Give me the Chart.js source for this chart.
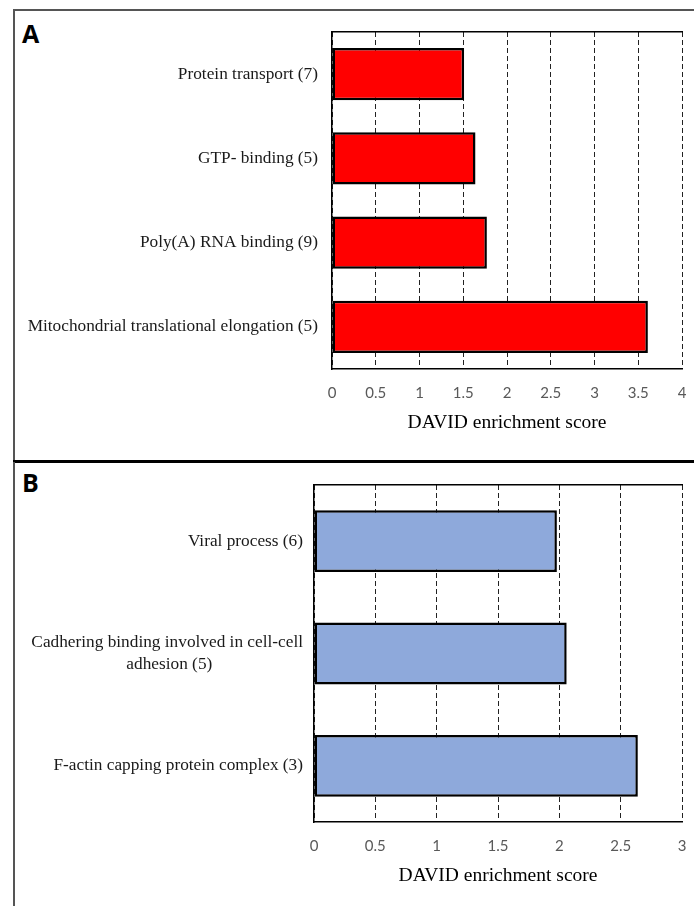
<!DOCTYPE html>
<html>
<head>
<meta charset="utf-8">
<script src="https://cdn.jsdelivr.net/npm/chart.js@4.4.1/dist/chart.umd.min.js"></script>
<style>
  html, body { margin: 0; padding: 0; background: #fff; }
  #wrap { position: relative; width: 694px; height: 906px; overflow: hidden; }
  .panel { position: absolute; }
  .letter { position: absolute; font-family: "Open Sans", Arial, sans-serif; font-weight: 700; font-size: 25px; line-height: 30px; color: #000; }
  #boxA { left: 13px; top: 9px; width: 700px; height: 452px; border-left: 2px solid #555; border-top: 2px solid #555; }
  #sep { left: 13px; top: 460px; width: 700px; height: 3px; background: #000; }
  #boxB { left: 13px; top: 462px; width: 700px; height: 460px; border-left: 2px solid #555; }
  canvas { position: absolute; left: 0; }
</style>
</head>
<body>
<div id="wrap">
  <div class="panel" id="boxA"></div>
  <div class="panel" id="sep"></div>
  <div class="panel" id="boxB"></div>
  <div class="letter" style="left:22px; top:18px;">A</div>
  <div class="letter" style="left:22px; top:467px;">B</div>
  <canvas id="chartA" style="top:0px;"></canvas>
  <canvas id="chartB" style="top:462px;"></canvas>
</div>
<script>
const labelsA = [
    "Protein transport (7)",
    "GTP- binding (5)",
    "Poly(A) RNA binding (9)",
    "Mitochondrial translational elongation (5)"
];
const scoresA = [1.51, 1.64, 1.77, 3.61];

const labelsB = [
    "Viral process (6)",
    ["Cadhering binding involved in cell-cell", "adhesion (5)"],
    "F-actin capping protein complex (3)"
];
const scoresB = [1.98, 2.06, 2.64];

const axisTitle = "DAVID enrichment score";

const labelFont = { family: "'Liberation Serif', 'Times New Roman', serif", size: 17.3, lineHeight: 1.28 };
const tickFont = { family: "Lato, 'Open Sans', sans-serif", size: 15, lineHeight: 1.2 };
const titleFont = { family: "'Liberation Serif', 'Times New Roman', serif", size: 19.5, lineHeight: 1.2 };

// Excel centres the lines of a wrapped label; pad the short line so it sits centred
function centreWrapped(lines) {
    if (!Array.isArray(lines)) return lines;
    const ctx = document.createElement("canvas").getContext("2d");
    ctx.font = labelFont.size + "px " + labelFont.family;
    const w0 = ctx.measureText(lines[0]).width;
    return lines.map(line => {
        let s = line;
        while (ctx.measureText(s + " ").width <= (w0 + ctx.measureText(line).width) / 2 + 1) s += " ";
        return s;
    });
}

function makeChart(id, w, h, labels, values, color, xMax, o) {
    const canvas = document.getElementById(id);
    canvas.width = w;
    canvas.height = h;
    canvas.style.width = w + "px";
    canvas.style.height = h + "px";

    return new Chart(canvas, {
        type: "bar",
        data: {
            labels: labels.map(centreWrapped),
            datasets: [{
                data: values,
                backgroundColor: color,
                borderColor: "#000",
                borderWidth: 2.5,
                borderSkipped: false,
                barPercentage: o.bar,
                categoryPercentage: 1
            }]
        },
        options: {
            indexAxis: "y",
            responsive: false,
            animation: false,
            layout: { padding: { top: o.top, right: o.right, left: 0, bottom: 0 } },
            plugins: { legend: { display: false }, tooltip: { enabled: false } },
            scales: {
                x: {
                    position: "bottom",
                    min: 0,
                    max: xMax,
                    ticks: {
                        stepSize: 0.5,
                        color: "#595959",
                        font: tickFont,
                        padding: o.tickPad,
                        callback: v => String(v)
                    },
                    grid: { color: "#222", lineWidth: 1, drawTicks: false },
                    border: { display: true, color: "#000", width: 1.5, dash: [5, 3] },
                    title: {
                        display: true,
                        text: axisTitle,
                        color: "#000",
                        font: titleFont,
                        padding: { top: 0, bottom: o.titlePad }
                    },
                    afterFit: s => {
                        s.height = o.xHeight;
                        s.paddingLeft = 0;
                        s.paddingRight = 0;
                    }
                },
                xTop: {
                    position: "top",
                    type: "linear",
                    display: true,
                    ticks: { display: false },
                    grid: { display: false, drawTicks: false },
                    border: { display: true, color: "#000", width: 1.5 },
                    afterFit: s => {
                        s.height = 0;
                        s.paddingLeft = 0;
                        s.paddingRight = 0;
                    }
                },
                y: {
                    ticks: { color: "#1a1a1a", font: labelFont, padding: o.labelPad },
                    grid: { display: false, drawTicks: false },
                    border: { display: true, color: "#000", width: 1.5 },
                    afterFit: s => { s.width = o.yWidth; }
                }
            }
        }
    });
}

makeChart("chartA", 694, 462, labelsA, scoresA, "#FF0000", 4, {
    bar: 0.62, top: 32, right: 12, yWidth: 332, xHeight: 93,
    tickPad: 15, titlePad: 27, labelPad: 14
});

makeChart("chartB", 694, 444, labelsB, scoresB, "#8EA9DB", 3, {
    bar: 0.55, top: 23, right: 12, yWidth: 314, xHeight: 84,
    tickPad: 15, titlePad: 18, labelPad: 11
});
</script>
</body>
</html>
